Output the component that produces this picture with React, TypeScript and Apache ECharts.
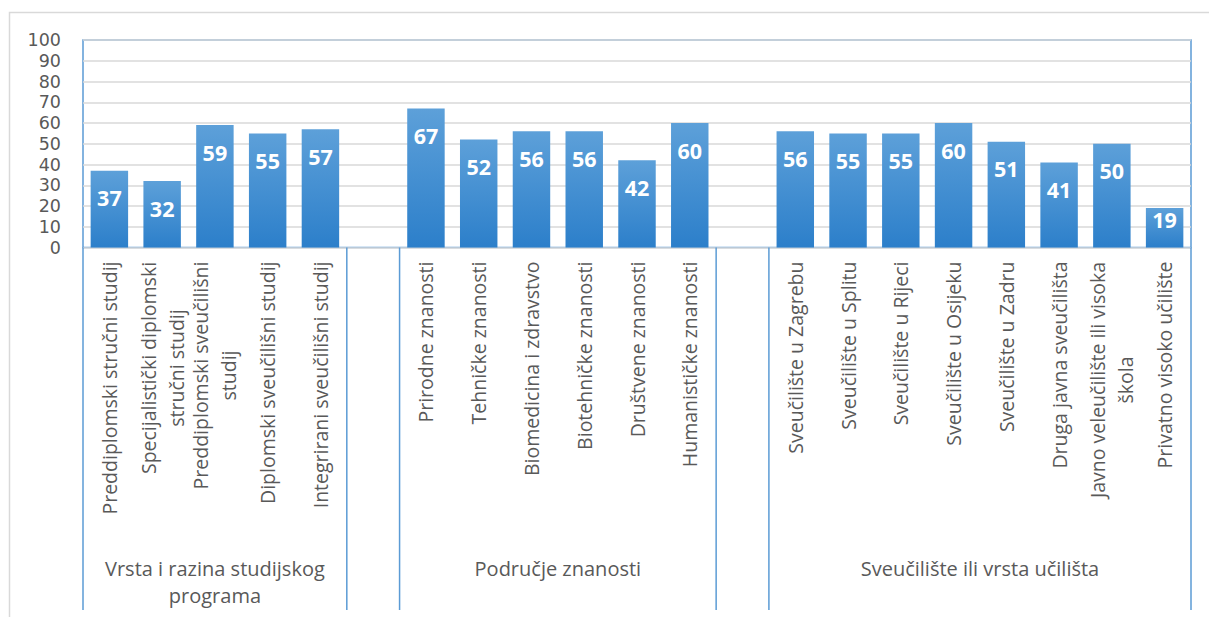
import React, { useEffect, useRef } from "react";
import * as echarts from "echarts";

const groupNames = [
  "Vrsta i razina studijskog\nprograma",
  "Područje znanosti",
  "Sveučilište ili vrsta učilišta",
];

const group1Categories = [
  "Preddiplomski stručni studij",
  "Specijalistički diplomski\nstručni studij",
  "Preddiplomski sveučilišni\nstudij",
  "Diplomski sveučilišni studij",
  "Integrirani sveučilišni studij",
];
const group1Values = [37, 32, 59, 55, 57];

const group2Categories = [
  "Prirodne znanosti",
  "Tehničke znanosti",
  "Biomedicina i zdravstvo",
  "Biotehničke znanosti",
  "Društvene znanosti",
  "Humanističke znanosti",
];
const group2Values = [67, 52, 56, 56, 42, 60];

const group3Categories = [
  "Sveučilište u Zagrebu",
  "Sveučilište u Splitu",
  "Sveučilište u Rijeci",
  "Sveučilište u Osijeku",
  "Sveučilište u Zadru",
  "Druga javna sveučilišta",
  "Javno veleučilište ili visoka\nškola",
  "Privatno visoko učilište",
];
const group3Values = [56, 55, 55, 60, 51, 41, 50, 19];

const yMin = 0;
const yMax = 100;
const yInterval = 10;

const groups = [
  { cats: group1Categories, vals: group1Values },
  { cats: group2Categories, vals: group2Values },
  { cats: group3Categories, vals: group3Values },
];

const FONT = '"Open Sans", "Noto Sans", sans-serif';
const TEXT_COLOR = "#595959";
const BLUE_LINE = "#5B9BD5";
const X_FONT = 19.5;

export default function App() {
  const ref = useRef<HTMLDivElement>(null);

  useEffect(() => {
    document.body.style.margin = "0";
    if (!ref.current) return;

    // Flatten groups with empty spacer slots
    const categories: string[] = [];
    const values: (number | null)[] = [];
    const groupRanges: [number, number][] = [];
    groups.forEach((g, gi) => {
      if (gi > 0) {
        categories.push("");
        values.push(null);
      }
      const start = categories.length;
      g.cats.forEach((c) => categories.push(c));
      g.vals.forEach((v) => values.push(v));
      groupRanges.push([start, categories.length]);
    });

    // measure text for centering multi-line rotated labels
    const ctx = document.createElement("canvas").getContext("2d")!;
    ctx.font = `${X_FONT}px "Open Sans"`;
    const rich: Record<string, any> = {};
    categories.forEach((c, i) => {
      if (c.includes("\n")) {
        const w = Math.max(...c.split("\n").map((l) => ctx.measureText(l).width));
        rich["m" + i] = {
          width: Math.ceil(w),
          align: "center",
          fontSize: X_FONT,
          lineHeight: 28,
          color: TEXT_COLOR,
          fontFamily: FONT,
        };
      }
    });

    const chart = echarts.init(ref.current, null, { renderer: "svg" });
    const option: any = {
      animation: false,
      backgroundColor: "#ffffff",
      grid: {
        left: 83,
        right: 18,
        top: 40,
        bottom: 369.5,
        show: true,
        borderColor: BLUE_LINE,
        borderWidth: 1.5,
        containLabel: false,
      },
      xAxis: {
        type: "category",
        data: categories,
        axisLine: { show: false },
        axisTick: { show: false },
        axisLabel: {
          interval: 0,
          rotate: 90,
          margin: 14,
          fontSize: X_FONT,
          lineHeight: 28,
          color: TEXT_COLOR,
          fontFamily: FONT,
          formatter: (v: string, i: number) => (v.includes("\n") ? `{m${i}|${v}}` : v),
          rich,
        },
      },
      yAxis: {
        type: "value",
        min: yMin,
        max: yMax,
        interval: yInterval,
        axisLine: { show: false },
        axisTick: { show: false },
        axisLabel: {
          fontSize: 17.5,
          lineHeight: 18,
          color: TEXT_COLOR,
          fontFamily: '"DejaVu Sans", sans-serif',
          margin: 22,
        },
        splitLine: { lineStyle: { color: "#D9D9D9", width: 1.5 } },
      },
      series: [
        {
          type: "bar",
          data: values.map((v) =>
            v == null ? "-" : v < 25 ? { value: v, label: { distance: 0 } } : v
          ),
          barCategoryGap: "29%",
          itemStyle: {
            color: new echarts.graphic.LinearGradient(0, 0, 0, 1, [
              { offset: 0, color: "#5DA0D9" },
              { offset: 1, color: "#2C7FCA" },
            ]),
          },
          label: {
            show: true,
            position: "insideTop",
            distance: 16,
            color: "#ffffff",
            fontWeight: "bold",
            fontSize: 21.5,
            fontFamily: FONT,
          },
        },
      ],
    };
    chart.setOption(option);

    const xp = (i: number) => chart.convertToPixel({ xAxisIndex: 0 }, i) as number;
    const slot = xp(1) - xp(0);
    const boundary = (i: number) => xp(0) + (i - 0.5) * slot;
    const y0 = chart.convertToPixel({ yAxisIndex: 0 }, yMin) as number;
    const yBottom = 610;

    const graphics: any[] = [
      {
        type: "rect",
        silent: true,
        z: -10,
        shape: { x: 9.5, y: 12.5, width: 1400, height: 800 },
        style: { fill: "none", stroke: "#D9D9D9", lineWidth: 1.5 },
      },
    ];
    const sepIdx = new Set<number>();
    groupRanges.forEach(([s, e]) => {
      sepIdx.add(s);
      sepIdx.add(e);
    });
    sepIdx.forEach((i) => {
      const x = boundary(i);
      graphics.push({
        type: "line",
        silent: true,
        shape: { x1: x, y1: y0, x2: x, y2: yBottom },
        style: { stroke: BLUE_LINE, lineWidth: 1.5 },
      });
    });
    groupRanges.forEach(([s, e], gi) => {
      const cx = (boundary(s) + boundary(e)) / 2;
      graphics.push({
        type: "text",
        silent: true,
        x: cx,
        y: 554.5,
        style: {
          text: groupNames[gi],
          fill: TEXT_COLOR,
          fontSize: 20,
          fontFamily: FONT,
          lineHeight: 27,
          align: "center",
          verticalAlign: "top",
        },
      });
    });
    chart.setOption({ graphic: graphics });

    return () => chart.dispose();
  }, []);

  return <div ref={ref} style={{ width: 1209, height: 617 }} />;
}
